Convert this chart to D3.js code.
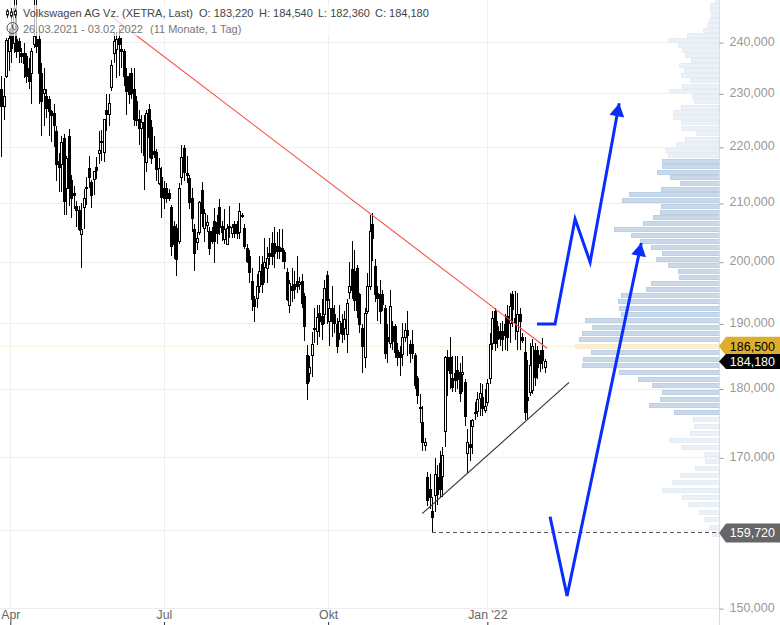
<!DOCTYPE html>
<html><head><meta charset="utf-8">
<script src="https://cdn.jsdelivr.net/npm/d3@7"></script>
<style>
html,body{margin:0;padding:0;background:#fff;overflow:hidden}
svg{display:block;font-family:"Liberation Sans",Arial,sans-serif}
</style></head><body><div id="c"></div>
<script>
// Candles, in thousands of price units (26.03.2021 - 03.02.2022)
const opens=[231,227.7,233.5,238.4,243,240,240.8,240.4,238,238,
237.4,235,234,239.8,240.8,240.8,234,230.2,229.6,229,
226.7,226.3,223,217.5,217,221.7,212.7,222,214.1,211.9,
209.5,208.8,204.8,209.3,212.7,216.2,213.7,214.3,216.5,219,
220.9,219.3,227,226.2,231.2,238,238.8,241,238.8,238.4,
233.5,233.5,234.1,231,228.7,225.3,223.5,224.6,217.3,227.2,
223.7,219.4,219.1,213.6,214.6,212.7,212.7,211.8,209.3,206.1,
205.8,203.6,214.6,219.8,215.4,214.5,211,205.6,203.4,205,
212.3,205.8,206.2,205.3,205.3,207,206.7,209.3,206.1,203.9,
203,206,205,206.5,206.5,205,207.9,205.8,202.4,201,
196.9,194,194,196,199.7,199.2,199,201.5,203.2,203.2,
202.7,202.6,202.4,201.7,198.4,193,196.1,196.4,196.9,196.4,
196.9,194.5,185.2,182.4,185.2,189.2,188.9,191.7,191.2,191.6,
197.8,190.5,192.6,191.6,190,188.6,190.2,189.4,188.5,195,
198.8,198.5,199,194.8,189.4,184.9,192.1,196.1,206.4,199.4,
195,194.8,194.8,192.6,188,187.1,189.7,189.7,186,185.6,
185.2,187.9,189,186.9,186.9,185.2,181.7,177.4,175.2,171.9,
167.3,165.7,162.7,164.8,167.3,169.3,167.4,173.9,184.9,184.9,
181.7,182.4,182.9,182.6,182.3,181,170.7,172,174.5,176.6,
176.8,178.7,178.8,176.9,178,181.7,187.1,192.1,189.7,188.9,
188.9,190,191.2,190.2,194.8,190.9,188.9,191.6,188,185.6,
178.8,179.5,179.9,185.9,185.9,185.2,185.9,183.22];
const highs=[233.5,233,241,243,246,249,249,241,239,240,
238,237,239,249,249,243,236,235,231,229.5,
227,228,224,219,222,222.5,218.5,223.4,215,213,
210.5,209.5,210,212.6,214.6,218.5,214.2,215.7,218.2,223,
223.2,225.3,230,230,236.5,242,242,243,241,238.8,
235,234,235,235,229.5,227,226,226,227,228,
225,222,219.7,218,216.5,214,213.5,212.5,209.8,207,
206.5,213.5,220.4,220.4,218.5,215,212.7,206.5,205,210.5,
213.7,209,208,206,206,209.2,208,210.7,207,209,
206.5,209.5,206.5,207,207,210,208.3,206.5,203,202,
199,194.5,198,201,201,204,202.5,204,205,206,
205,205.5,205.5,202,199,197,199,198.5,201,197.5,
198,195,186.7,185,188.8,192.5,193,193,194,197,
198.5,194,196,193,191,193,191.5,192,194,200,
203.5,202,199.5,195,190,192.5,198.2,208,208.3,200.5,
196,197,195.5,193,190,195.5,190.5,190,187,186.6,
190.2,190.2,192,187.5,189,185.5,182,179.3,177.5,172.8,
168,167.8,164.5,170,169,171,171.6,185,186,188,
185,185,185,184,185,181.5,174.1,175.5,175.6,178,
179.5,180.9,180.7,180,181.5,188.6,192,192.6,190.5,190.2,
190.5,191.5,193,195,195.2,195.2,195,192.5,188.5,188,
184.4,187,187.6,187,186.6,186,187.8,184.54];
const lows=[218.2,225,233,234.5,236,238,237,236,236,233,
232,231,228,239,238,228,222,224,225.5,222,
221,220,214,212,212,208,208,209.6,207.5,209,
206,205.2,199.1,205.5,209.8,212.7,209.2,211.4,214.3,217,
217.5,217.4,223,224,230.6,236,233,233.5,235,231.5,
226,228,229,224,224,220.5,219,212.3,215.5,218,
217,218,214,213.2,207.5,209,210,210.5,201,200.5,
197.7,203,213.2,214,213.5,209,205,198.5,202,204.5,
206,203.4,205,201.2,203,199.8,203,204.5,203.5,203,
202.8,204,204,204,203.8,203.8,207.5,202.2,199.8,196.6,
192,190.3,192.5,195,195,196.5,196.5,199.5,199.5,199,
200.5,200.5,200,198.9,193.7,191.8,193.5,194,195,195.5,
192.5,187.3,178.3,181,181.8,187,186.7,188,187.5,190,
190,186.5,188,188.5,185.4,187.5,187,187.5,185.5,194,
194,192,191,188.5,182.4,183.2,191.5,195.5,200.2,193.5,
190.5,190,192,184.5,184,186.3,186,184.7,183.5,182,
183.5,187.2,185,184,184.5,180,177.8,175,171,171,
163.3,163,159.72,162.5,163.5,164.5,164.5,171.5,179,180,
179.5,179.5,180,178,179.5,174.5,167.9,169.5,170.5,175.5,
175.8,176,176,176.4,177.5,180.7,186,185.8,186.2,186.5,
185.8,186,185.8,187,189.5,187.5,186,186,187,175.5,
175.5,179,179.2,180.5,181.5,182.5,183,182.36];
const closes=[227.7,229.6,240.6,241,239,247,238.4,238.4,237.4,236,
233.5,232.5,238.4,241.4,239.4,234,228.6,231,227.3,226.7,
226,224,217,216.5,221,210.4,218,212.7,210.9,211.6,
208.8,205.6,205.6,210.9,212.8,214.6,211.4,215.7,216,219.6,
221.1,225.3,226.2,228.3,235.5,240.4,240.8,239.8,238.4,233.5,
230.6,230,230.2,225.3,225.2,223.7,224.6,218.5,226.4,221.9,
218,218.9,216,216.2,211,211,211,211,202.7,203,
200.5,212.7,218.2,215.5,215,210.2,207.5,201.6,204,210.2,
208.2,208.4,206.7,202.4,203.6,203.6,204.8,205.8,205,205.6,
205.8,206.1,206,205,205,208.6,208,202.7,200.2,198.3,
194,192.9,196,198.5,196.4,200.1,200.7,201,201,201.5,
201.9,201.9,201.9,200.2,194,196.6,195.5,195.6,196.1,196.8,
193.4,189.7,181,183.3,186.9,189.3,191.1,190.5,190,195.8,
193.7,192.6,190.5,190.2,186.6,190.5,188.5,190.8,193.4,196,
195.3,193.7,192.1,190,186.6,191.8,196.1,205.3,204,194.8,
194.2,192.1,193.2,185.6,187.4,192.9,187.4,185.6,184.9,184.9,
187.9,189,188.2,185.5,185.5,180.6,179.1,177.3,172.3,172.3,
164.1,164.6,161.9,167.7,165,165.7,170.4,184.9,182.9,182.4,
180.3,181.3,181.5,179.4,182.6,176,172.3,171.6,175.4,176.5,
178.5,179.4,177.2,177.5,180.9,186.9,191,187.1,187.6,187.8,
187.7,188.2,187.9,192.9,192.4,190.2,191.6,190.5,187.6,176.6,
178.4,183.6,186.6,181.8,183.3,183.9,184.4,184.18];

// Price ticks and time ticks
const priceTicks=[240,230,220,210,200,190,180,170,150];
const gridOnlyPrices=[160];
const timeTickIndex=[3.7,65,130.5,194];
const timeTickLabels=["Apr","Jul","Okt","Jan '22"];

// Volume-by-price profile: one bin per 1.000 price units, from 159.5 upward
const profileStart=159.5;
const profileVolumes=[7,10,15,20,31,37,57,47,39,24,14,15,38,50,29,25,26,
45,70,59,57,67,81,100,137,136,128,144,140,137,127,134,98,100,101,98,73,68,40,41,51,63,57,68,79,88,105,76,66,59,58,97,90,58,39,49,62,57,57,
51,54,43,34,23,38,38,46,46,38,25,27,50,37,29,38,35,40,28,34,37,41,51,32,16,12,10,8,9,9,4];
const valueAreaLow=176.5, valueAreaHigh=217.5, pocPrice=186.5;

// Drawn annotations, as [candle index, price]
const redTrend=[[44.7,245],[217.8,186.2]];
const blackTrend=[[168,162.3],[226.6,181]];
const blueArrowOne=[[213.8,190],[221,190],[229,207.3],[235,200],[246.6,228.2]];
const blueArrowTwo=[[219,161.9],[225.8,151.6],[255.4,203.2]];
const lastClose=184.18, periodLow=159.72, periodLowIndex=172;

const W=780,H=625,axisX=719;
const fmt=v=>d3.format(".3f")(v).replace(".",",");
const y=d3.scaleLog().domain([150,240]).range([608.6,42.6]);
const x=d3.scaleLinear().domain([0,217]).range([1,545]);
const volW=d3.scaleLinear().domain([0,144]).range([0,144]);
const svg=d3.select("#c").append("svg").attr("width",W).attr("height",H);

// grid
const grid=svg.append("g").attr("shape-rendering","crispEdges");
grid.selectAll("line.h").data(priceTicks.concat(gridOnlyPrices)).join("line")
  .attr("x1",0).attr("x2",axisX).attr("y1",d=>Math.floor(y(d))+.5).attr("y2",d=>Math.floor(y(d))+.5)
  .attr("stroke","#eeeeee");
grid.selectAll("line.v").data(timeTickIndex).join("line")
  .attr("x1",d=>Math.round(x(d))+.5).attr("x2",d=>Math.round(x(d))+.5).attr("y1",0).attr("y2",608)
  .attr("stroke","#eeeeee");

// profile
const gp=svg.append("g").attr("shape-rendering","crispEdges");
const bins=profileVolumes.map((v,i)=>({p:profileStart+i,v}));
const isVA=d=>d.p>=valueAreaLow&&d.p<=valueAreaHigh;
gp.selectAll("rect").data(bins).join("rect")
  .attr("x",d=>Math.round(axisX-volW(d.v))+.5)
  .attr("width",d=>Math.round(volW(d.v)))
  .attr("y",d=>Math.floor(y(d.p))-2+.5)
  .attr("height",4)
  .attr("fill",d=>d.p===pocPrice?"#f8efd6":(isVA(d)?"#c9d9ea":"#ebf1f7"))
  .attr("stroke",d=>d.p===pocPrice?"#f6ecd0":(isVA(d)?"#bdd0e5":"#e4ecf4"))
  .attr("stroke-width",1);

// POC line
svg.append("line").attr("x1",0).attr("x2",axisX).attr("y1",y(pocPrice)).attr("y2",y(pocPrice))
  .attr("stroke","#fbf0d0").attr("stroke-width",1);

// candles
const idx=d3.range(opens.length);
const gc=svg.append("g").attr("shape-rendering","crispEdges");
gc.selectAll("line").data(idx).join("line")
  .attr("x1",i=>Math.round(x(i))+.5).attr("x2",i=>Math.round(x(i))+.5)
  .attr("y1",i=>y(highs[i])).attr("y2",i=>y(lows[i]))
  .attr("stroke","#000");
gc.selectAll("rect").data(idx).join("rect")
  .attr("x",i=>Math.round(x(i))-.5)
  .attr("width",2)
  .attr("y",i=>Math.round(y(Math.max(opens[i],closes[i])))+.5)
  .attr("height",i=>Math.max(1,Math.round(Math.abs(y(opens[i])-y(closes[i])))))
  .attr("fill",i=>closes[i]>=opens[i]?"#fff":"#000")
  .attr("stroke","#000");

// trends
const line=d3.line().x(d=>x(d[0])).y(d=>y(d[1]));
svg.append("path").attr("d",line(redTrend)).attr("fill","none").attr("stroke","#f4524a").attr("stroke-width",1.1);
svg.append("path").attr("d",line(blackTrend)).attr("fill","none").attr("stroke","#333").attr("stroke-width",1.1);
svg.append("line").attr("x1",x(periodLowIndex)).attr("x2",axisX)
  .attr("y1",y(periodLow)).attr("y2",y(periodLow))
  .attr("stroke","#555").attr("stroke-dasharray","4,3").attr("shape-rendering","crispEdges");

// header veil over the chart
svg.append("rect").attr("x",0).attr("y",5).attr("width",430).attr("height",31).attr("fill","#fff").attr("opacity",.72);

// blue arrows
const defs=svg.append("defs");
defs.append("marker").attr("id","head").attr("markerUnits","userSpaceOnUse")
  .attr("viewBox","-14 -8 15 16").attr("refX",0).attr("refY",0)
  .attr("markerWidth",15).attr("markerHeight",16).attr("orient","auto")
  .append("path").attr("d","M0,0L-13,-7.5L-13,7.5Z").attr("fill","#0a2dff");
[blueArrowOne,blueArrowTwo].forEach(a=>{
  svg.append("path").attr("d",line(a)).attr("fill","none").attr("stroke","#0a2dff")
    .attr("stroke-width",3).attr("stroke-linejoin","miter").attr("marker-end","url(#head)");
});

// axes
const ay=svg.append("g").attr("transform",`translate(${axisX+.5},0)`)
  .call(d3.axisRight(y).tickValues(priceTicks).tickFormat(fmt).tickSize(4).tickPadding(6));
ay.select(".domain").attr("d",`M0,0V${H}`).attr("stroke","#dddddd");
ay.selectAll(".tick line").attr("stroke","#999");
ay.selectAll("text").attr("fill","#999").attr("font-size",12.5).attr("font-family","Liberation Sans").attr("dy","0.2em");

const ax=svg.append("g").attr("transform","translate(0,608)")
  .call(d3.axisBottom(x).tickValues(timeTickIndex).tickFormat((d,i)=>timeTickLabels[i]).tickSize(0).tickPadding(2));
ax.select(".domain").remove();
ax.selectAll(".tick line").attr("y1",14).attr("y2",17).attr("stroke","#333");
ax.selectAll("text").attr("fill","#666").attr("font-size",12.3).attr("font-family","Liberation Sans");

// price flags
function flag(price,label,fill,color,h){
  const c=y(price);
  const g=svg.append("g");
  g.append("path").attr("d",`M${axisX},${c}L${axisX+7},${c-h/2}H${W}V${c+h/2}H${axisX+7}Z`).attr("fill",fill);
  g.append("text").attr("x",W-5).attr("y",c+4.5).attr("text-anchor","end").attr("fill",color)
    .attr("font-size",12.5).text(label);
}
flag(pocPrice,fmt(pocPrice),"#dcae2c","#000",19);
flag(lastClose,fmt(lastClose),"#000","#fff",15);
flag(periodLow,fmt(periodLow),"#666","#fff",19);

// header
const t=svg.append("g").attr("font-size",11);
t.append("text").attr("x",23).attr("y",17).attr("fill","#444").text("Volkswagen AG Vz. (XETRA, Last)");
t.append("text").attr("x",199).attr("y",17).attr("fill","#444").text("O: "+fmt(opens[217]));
t.append("text").attr("x",259).attr("y",17).attr("fill","#444").text("H: "+fmt(highs[217]));
t.append("text").attr("x",318).attr("y",17).attr("fill","#444").text("L: "+fmt(lows[217]));
t.append("text").attr("x",375).attr("y",17).attr("fill","#444").text("C: "+fmt(closes[217]));
t.append("text").attr("x",23).attr("y",33).attr("fill","#777").text("26.03.2021 - 03.02.2022");
t.append("text").attr("x",150).attr("y",33).attr("fill","#777").text("(11 Monate, 1 Tag)");
// icons
const ic=svg.append("g").attr("stroke","#222").attr("fill","none").attr("stroke-width",1);
ic.append("path").attr("d","M7.5,9V18M11.5,8V18M15.5,9V18");
ic.append("rect").attr("x",6.5).attr("y",11).attr("width",2).attr("height",4).attr("fill","#fff");
ic.append("rect").attr("x",10.5).attr("y",12).attr("width",2).attr("height",4).attr("fill","#fff");
ic.append("rect").attr("x",14.5).attr("y",11).attr("width",2).attr("height",4).attr("fill","#fff");
ic.append("circle").attr("cx",12.5).attr("cy",28).attr("r",5.5).attr("stroke","#555");
ic.append("path").attr("d","M12.5,24.5V28L15,30").attr("stroke","#555");
</script></body></html>
